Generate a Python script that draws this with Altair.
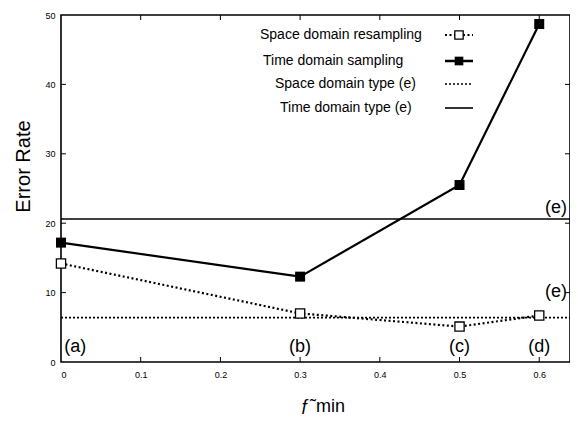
import altair as alt
import pandas as pd

# ---- data ----
x_vals = [0.0, 0.3, 0.5, 0.6]
space_resampling = [14.2, 7.0, 5.1, 6.7]
time_sampling = [17.2, 12.3, 25.5, 48.7]
space_type_e = [6.4]
time_type_e = [20.6]
x_tick_values = [0.0, 0.1, 0.2, 0.3, 0.4, 0.5, 0.6]
y_tick_values = [0, 10, 20, 30, 40, 50]
point_labels = ["(a)", "(b)", "(c)", "(d)"]
point_label_x = [0.018, 0.3, 0.5, 0.6]
point_label_y = [2.2, 2.2, 2.2, 2.2]
e_labels = ["(e)", "(e)"]
e_label_y = [22.2, 10.1]
legend_labels = ["Space domain resampling", "Time domain sampling",
                 "Space domain type (e)", "Time domain type (e)"]
x_max = 0.6386

W, H = 509, 347
FONT = "Liberation Sans"

space_df = pd.DataFrame({"x": x_vals, "y": space_resampling})
time_df = pd.DataFrame({"x": x_vals, "y": time_sampling})

xs = alt.Scale(domain=[0, x_max], nice=False, zero=False)
ys = alt.Scale(domain=[0, 50], nice=False)
xaxis = alt.Axis(values=x_tick_values, format="~g", title="ƒ˜min",
                 titleFontSize=18, titleX=261, titleY=44, titleBaseline="middle",
                 labelPadding=8)
yaxis = alt.Axis(values=y_tick_values, title="Error Rate", titleFontSize=20,
                 titleX=-37.5, titleY=151, titleAlign="center", titleBaseline="middle",
                 labelPadding=6)
X = alt.X("x:Q", scale=xs, axis=xaxis)
Y = alt.Y("y:Q", scale=ys, axis=yaxis)

# lines with markers
space_line = alt.Chart(space_df).mark_line(color="black", strokeWidth=2.2, strokeDash=[2, 2.5]).encode(x=X, y=Y)
space_pts = alt.Chart(space_df).mark_point(shape="square", filled=True, fill="white", stroke="black",
                                           strokeWidth=1.3, size=85, opacity=1).encode(x=X, y=Y)
time_line = alt.Chart(time_df).mark_line(color="black", strokeWidth=2.2).encode(x=X, y=Y)
time_pts = alt.Chart(time_df).mark_point(shape="square", filled=True, color="black",
                                         size=100, opacity=1).encode(x=X, y=Y)

# reference lines
time_e = alt.Chart(pd.DataFrame({"y": time_type_e})).mark_rule(color="black", strokeWidth=1.6).encode(
    y=Y, x=alt.value(0), x2=alt.value(W))
space_e = alt.Chart(pd.DataFrame({"y": space_type_e})).mark_rule(color="black", strokeWidth=1.6,
                                                                   strokeDash=[2, 2]).encode(
    y=Y, x=alt.value(0), x2=alt.value(W))

# annotations
ann_df = pd.DataFrame({"x": point_label_x, "y": point_label_y, "t": point_labels})
ann = alt.Chart(ann_df).mark_text(fontSize=18, font=FONT, color="black", baseline="middle",
                                  align="center").encode(x=X, y=Y, text="t:N")
e_df = pd.DataFrame({"y": e_label_y, "t": e_labels})
e_ann = alt.Chart(e_df).mark_text(fontSize=18, font=FONT, color="black", baseline="middle",
                                  align="right").encode(x=alt.value(W - 3), y=Y, text="t:N")

# inward ticks
xt_df = pd.DataFrame({"x": x_tick_values[1:]})
yt_df = pd.DataFrame({"y": y_tick_values[1:-1]})
xt_bot = alt.Chart(xt_df).mark_rule(color="black", strokeWidth=1).encode(x=X, y=alt.value(H), y2=alt.value(H - 5))
xt_top = alt.Chart(xt_df).mark_rule(color="black", strokeWidth=1).encode(x=X, y=alt.value(0), y2=alt.value(5))
yt_left = alt.Chart(yt_df).mark_rule(color="black", strokeWidth=1).encode(y=Y, x=alt.value(0), x2=alt.value(5))
yt_right = alt.Chart(yt_df).mark_rule(color="black", strokeWidth=1).encode(y=Y, x=alt.value(W), x2=alt.value(W - 5))

# manual legend (text left, sample right)
one = pd.DataFrame({"k": [0]})
leg_rows_y = [20, 46, 69, 93]
leg_text_x = [199, 202, 214, 219]
leg_x1, leg_x2, leg_xc = 384, 412, 398
legend_layers = []
for lbl, ly, lx in zip(legend_labels, leg_rows_y, leg_text_x):
    legend_layers.append(alt.Chart(one).mark_text(fontSize=14, font=FONT, color="black", align="left",
                                                  baseline="middle").encode(
        x=alt.value(lx), y=alt.value(ly), text=alt.value(lbl)))
legend_layers += [
    alt.Chart(one).mark_rule(color="black", strokeWidth=2.2, strokeDash=[2, 2.5]).encode(
        x=alt.value(leg_x1), x2=alt.value(leg_x2), y=alt.value(leg_rows_y[0])),
    alt.Chart(one).mark_point(shape="square", filled=True, fill="white", stroke="black", strokeWidth=1.3,
                              size=70, opacity=1).encode(x=alt.value(leg_xc), y=alt.value(leg_rows_y[0])),
    alt.Chart(one).mark_rule(color="black", strokeWidth=2.5).encode(
        x=alt.value(leg_x1), x2=alt.value(leg_x2), y=alt.value(leg_rows_y[1])),
    alt.Chart(one).mark_point(shape="square", filled=True, color="black", size=75, opacity=1).encode(
        x=alt.value(leg_xc), y=alt.value(leg_rows_y[1])),
    alt.Chart(one).mark_rule(color="black", strokeWidth=1.6, strokeDash=[2, 2]).encode(
        x=alt.value(leg_x1), x2=alt.value(leg_x2), y=alt.value(leg_rows_y[2])),
    alt.Chart(one).mark_rule(color="black", strokeWidth=1.6).encode(
        x=alt.value(leg_x1), x2=alt.value(leg_x2), y=alt.value(leg_rows_y[3])),
]

chart = alt.layer(
    xt_bot, xt_top, yt_left, yt_right,
    time_e, space_e, space_line, time_line, space_pts, time_pts, ann, e_ann,
    *legend_layers
).properties(
    width=W, height=H,
    autosize=alt.AutoSizeParams(type="none"),
    padding={"left": 53, "top": 7, "right": 0, "bottom": 52},
).configure_view(
    stroke="black", strokeWidth=1.6
).configure_axis(
    domain=False, ticks=False, grid=False, labelFontSize=9, labelColor="black",
    labelFont=FONT, titleFont=FONT, titleColor="black", titleFontWeight="normal"
)

chart.save("out.html", embed_options={"renderer": "svg", "actions": False})
